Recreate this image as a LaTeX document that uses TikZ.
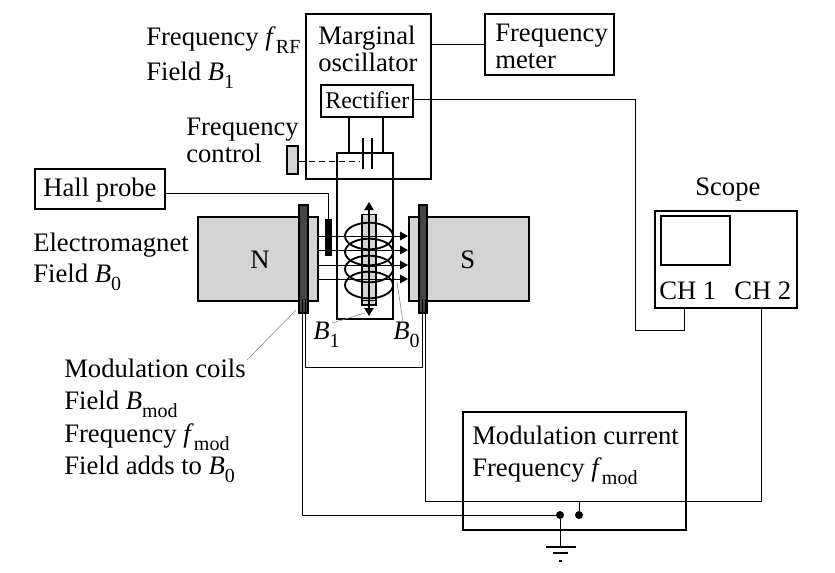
\documentclass[tikz,border=0pt]{standalone}
\usepackage{amsmath}
\usepackage{fontspec}
\setmainfont{Liberation Serif}
\usepackage{tikz}
\usetikzlibrary{arrows.meta}
\definecolor{poleGray}{gray}{0.83}
\definecolor{plateGray}{gray}{0.27}
\newcommand{\symb}[2]{\textit{#1}\raisebox{-.3em}{\fontsize{15}{15}\selectfont #2}}
\tikzset{
  box/.style={draw, line width=1.5pt, inner sep=0pt, rectangle},
  thinbox/.style={box, line width=1pt},
  lab/.style={inner sep=0pt, anchor=base west, font=\fontsize{20}{20.5}\selectfont, align=left},
  wire/.style={draw, line width=0.75pt},
  leader/.style={draw=gray, line width=0.4pt},
  dot/.style={circle, fill=black, inner sep=0pt, minimum size=6pt},
  fieldtip/.style={-{Triangle[length=6pt,width=6.5pt]}},
  sampletip/.style={{Triangle[length=6pt,width=7pt]}-{Triangle[length=6pt,width=7pt]}}
}
\begin{document}
\begin{tikzpicture}[x=0.75pt, y=-0.75pt]
  \useasboundingbox (0,0) rectangle (835,572);

  % Draw the poles
  \node[thinbox, fill=poleGray, minimum width=90pt, minimum height=63pt] (N) at (258,259) {};
  \node[thinbox, fill=poleGray, minimum width=90pt, minimum height=63pt] (S) at (469,259) {};

  % Draw the plates
  \node[thinbox, fill=plateGray, minimum width=6.75pt, minimum height=81pt] (plateL) at (303.5,259) {};
  \node[thinbox, fill=plateGray, minimum width=6pt, minimum height=81pt] (plateR) at (423,259) {};

  % Draw the boxes
  \node[box, minimum width=93.75pt, minimum height=123.75pt] (osc) at (368.5,96.5) {};
  \node[box, minimum width=96.75pt, minimum height=45.75pt] (meter) at (549.5,44.5) {};
  \node[box, minimum width=69pt, minimum height=24pt] (rect) at (367,101) {};
  \node[box, minimum width=97.5pt, minimum height=30pt] (hall) at (100,189) {};
  \node[box, minimum width=106.5pt, minimum height=72.75pt] (scope) at (726,259.5) {};
  \node[box, minimum width=51.75pt, minimum height=36.75pt] (screen) at (695.5,240.5) {};
  \node[box, minimum width=167.25pt, minimum height=88.5pt] (mod) at (574.5,471) {};
  \node[thinbox, fill=poleGray, minimum width=8.25pt, minimum height=21pt] (ctrl) at (292.5,160) {};
  \node[box, line width=0.5pt, fill=black, minimum width=4.5pt, minimum height=27pt] (probe) at (328,237) {};

  % Draw the tube
  \coordinate (tubeTL) at (337,153);
  \coordinate (tubeBR) at (393,319);
  \draw[line width=1pt] (tubeTL) rectangle (tubeBR);

  % Draw the sample
  \node[thinbox, fill=poleGray, minimum width=10.5pt, minimum height=68pt] (sample) at (369,259.5) {};
  \draw[line width=0.6pt] (sample.north) -- (sample.south);
  \draw[line width=0.6pt] (362,300) -- (376,300);
  \draw[line width=0.6pt] (362,266) -- (376,266);
  \coordinate (tipUp) at (369,202);
  \coordinate (tipDown) at (369,316);
  \draw[line width=0.8pt, sampletip] (tipUp) -- (tipDown);

  % Draw the field lines
  \foreach \yy in {236,250,265,279} {
    \draw[line width=0.6pt, fieldtip] (318,\yy) -- (408,\yy);
  }

  % Draw the coil
  \foreach \yy in {236,252,269,285} {
    \draw[line width=1.4pt] (369,\yy) ellipse (18pt and 10pt);
  }

  % Draw the capacitor
  \coordinate (plateA) at (363,153);
  \coordinate (plateB) at (372,153);
  \draw[line width=1.2pt] (tubeTL) -- (plateA);
  \draw[line width=1.2pt] (plateB) -- (tubeTL -| tubeBR);
  \draw[line width=1.2pt] ([yshift=11.25pt]plateA) -- ([yshift=-12pt]plateA);
  \draw[line width=1.2pt] ([yshift=11.25pt]plateB) -- ([yshift=-12pt]plateB);
  \draw[line width=1.5pt] (349,153) -- (349,117);
  \draw[line width=1.5pt] (383,153) -- (383,117);
  \draw[line width=0.75pt, dash pattern=on 4.5pt off 3pt] ([yshift=-0.75pt]ctrl.east) -- (360,161);

  % Draw the connectors
  \coordinate (scopeCh1) at (684,308);
  \coordinate (scopeCh2) at (761,308);
  \draw[wire, line width=1.2pt] (osc.east |- meter.west) -- (meter.west);
  \draw[wire] ([yshift=1.5pt]rect.east) -- (635,99) -- (635,330) -- (684,330) -- (scopeCh1);
  \draw[wire] ([yshift=-3pt]hall.east) -- (328,193) -- (probe.north);
  \draw[wire] (scopeCh2) -- (761,501) -- (425,501) -- (425,299);
  \draw[wire] (302,299) -- (302,515) -- (560,515);
  \draw[wire] (305,299) -- (305,367) -- (422,367) -- (422,299);
  \node[dot] (dotA) at (560,515) {};
  \node[dot] (dotB) at (579,515) {};
  \draw[wire] (dotB) -- (579,501);

  % Draw the ground
  \coordinate (gnd) at (560,547);
  \draw[wire] (dotA) -- (gnd);
  \draw[wire, line width=1pt] (546,547) -- (576,547);
  \draw[wire, line width=1pt] (553,553) -- (568,553);
  \draw[wire, line width=1pt] (559,561) -- (562,561);

  % Draw the leader lines
  \draw[leader] (247,360) -- (296,310);
  \draw[leader] (332,323) -- (365,313);
  \draw[leader] (403,322) -- (397,282);

  % Draw the labels
  \node[lab] at (146,45) {Frequency \symb{f}{RF}};
  \node[lab] at (146,80) {Field \symb{B}{1}};
  \node[lab, anchor=west] at (318,49) {Marginal\\oscillator};
  \node[lab, anchor=west] at (495,46.5) {Frequency\\meter};
  \node[lab, font=\fontsize{18}{18}\selectfont] at (325,108) {Rectifier};
  \node[lab, anchor=west] at (186,140.5) {Frequency\\control};
  \node[lab] at (43,196) {Hall probe};
  \node[lab] at (33,251) {Electromagnet};
  \node[lab] at (33,282) {Field \symb{B}{0}};
  \node[lab] at (250,268) {N};
  \node[lab] at (460,268) {S};
  \node[lab] at (313,339) {\symb{B}{1}};
  \node[lab] at (393,339) {\symb{B}{0}};
  \node[lab] at (64,377) {Modulation coils};
  \node[lab] at (64,409) {Field \symb{B}{mod}};
  \node[lab] at (64,442) {Frequency \symb{f}{mod}};
  \node[lab] at (64,474) {Field adds to \symb{B}{0}};
  \node[lab] at (695,195) {Scope};
  \node[lab] at (659,299) {CH 1};
  \node[lab] at (734,299) {CH 2};
  \node[lab] at (472,444) {Modulation current};
  \node[lab] at (472,476) {Frequency \symb{f}{mod}};
\end{tikzpicture}
\end{document}
